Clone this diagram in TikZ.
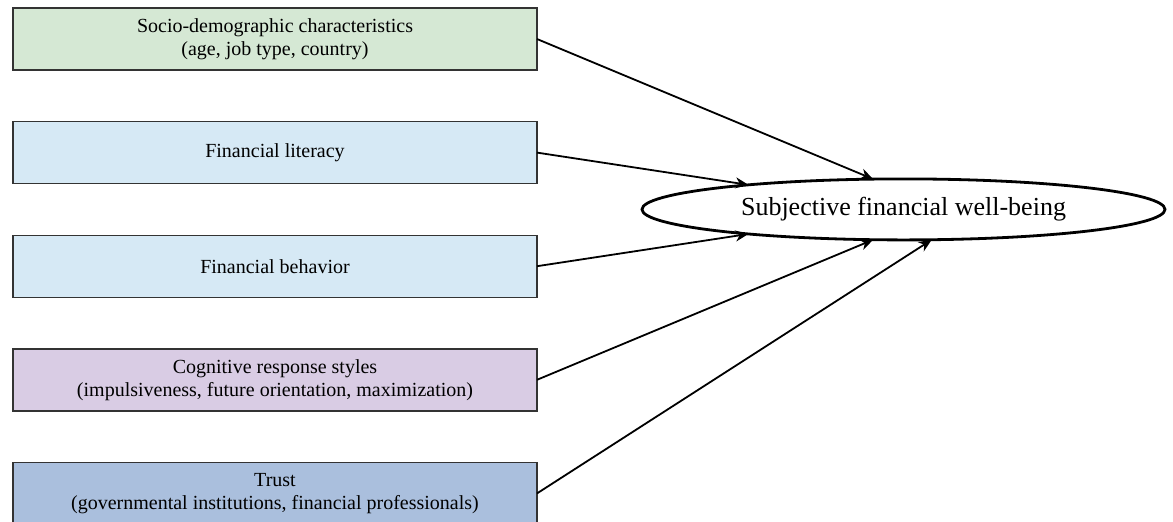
\documentclass[tikz,border=0pt]{standalone}
\usepackage{fontspec}
\setmainfont{Liberation Serif}
\usepackage{tikz}
\usetikzlibrary{arrows.meta}
\usetikzlibrary{positioning}
\usetikzlibrary{calc}
\usetikzlibrary{shapes.geometric}

\definecolor{sociogreen}{HTML}{D5E8D4}
\definecolor{finblue}{HTML}{D6E9F5}
\definecolor{cogpurple}{HTML}{D9CCE4}
\definecolor{trustblue}{HTML}{AABFDD}

\begin{document}
\begin{tikzpicture}[
    node distance=25.8pt,
    box/.style={
        draw=black!80, line width=0.7pt,
        minimum width=262pt,
        minimum height=31pt,
        outer sep=0pt,
        font=\fontsize{10}{11.5}\selectfont,
        align=center
    },
    outcome/.style={
        draw, ellipse, line width=1.4pt,
        minimum width=261.5pt,
        minimum height=30.5pt,
        inner sep=0pt, outer sep=0pt,
        font=\fontsize{13}{15}\selectfont
    },
    link/.style={-{Stealth[length=6.5pt,width=5.5pt,inset=2pt]}, line width=0.9pt}
]
\useasboundingbox (0,0) rectangle (586.5pt,-260.5pt);
\node[box, fill=sociogreen] (socio) at (137.5pt,-19.5pt) {
    Socio-demographic characteristics \\
    (age, job type, country)
};
\node[box, fill=finblue, below=of socio] (literacy) {Financial literacy};
\node[box, fill=finblue, below=of literacy] (behavior) {Financial behavior};
\node[box, fill=cogpurple, below=of behavior] (cognitive) {
    Cognitive response styles \\
    (impulsiveness, future orientation, maximization)
};
\node[box, fill=trustblue, below=of cognitive] (trust) {
    Trust \\
    (governmental institutions, financial professionals)
};
\coordinate (mid) at ($(literacy.east)!0.5!(behavior.east)$);
\node[outcome, right=52.5pt of mid] (sfwb) {Subjective financial well-being};
\draw[link] (socio.east) -- (sfwb.135);
\draw[link] (literacy.east) -- (sfwb.171);
\draw[link] (behavior.east) -- (sfwb.189);
\draw[link] (cognitive.east) -- (sfwb.225);
\draw[link] (trust.east) -- (sfwb.313);
\end{tikzpicture}
\end{document}
